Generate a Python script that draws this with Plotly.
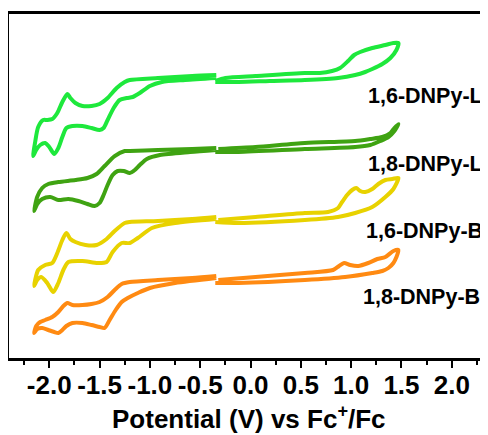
import plotly.graph_objects as go

# ---------------- data (potential in V vs Fc+/Fc, current in arbitrary units, offset stacked) -------------
# 1,6-DNPy-L
l16_neg_v = [-0.34, -0.58, -0.92, -1.20, -1.25, -1.33, -1.42, -1.50, -1.58, -1.67, -1.74, -1.79, -1.82, -1.87,
             -1.92, -1.97, -2.02, -2.06, -2.11, -2.14, -2.16,
             -2.13, -2.09, -2.04, -2.00, -1.95, -1.91, -1.87, -1.83, -1.77, -1.67, -1.58, -1.50, -1.46, -1.42,
             -1.36, -1.30, -1.23, -1.17, -1.10, -1.00, -0.88, -0.65, -0.34]
l16_neg_i = [28.3, 28.2, 28.0, 27.8, 27.6, 27.0, 26.0, 25.4, 25.2, 25.2, 25.5, 26.0, 26.4, 25.6,
             24.5, 23.9, 23.8, 23.8, 23.1, 21.6, 20.2,
             20.8, 21.3, 21.5, 21.1, 20.4, 21.0, 22.1, 23.0, 23.2, 23.2, 23.0, 22.8, 23.0, 23.8,
             25.0, 25.8, 26.0, 26.1, 26.5, 27.2, 27.6, 27.8, 28.0]
l16_pos_v = [-0.35, -0.12, 0.19, 0.54, 0.87, 1.04, 1.14, 1.21, 1.31, 1.39, 1.45, 1.47,
             1.42, 1.34, 1.21, 1.09, 1.03, 0.97, 0.89, 0.81, 0.69, 0.54, 0.05, -0.25, -0.35]
l16_pos_i = [27.6, 27.6, 27.7, 27.8, 28.0, 28.3, 28.6, 28.9, 29.4, 30.0, 30.8, 31.5,
             31.5, 31.3, 31.0, 30.6, 30.3, 29.7, 29.0, 28.7, 28.5, 28.5, 28.2, 28.0, 27.7]

# 1,8-DNPy-L
l18_neg_v = [-0.34, -0.58, -0.92, -1.20, -1.25, -1.35, -1.45, -1.53, -1.62, -1.74, -1.91, -2.01, -2.07, -2.12, -2.15,
             -2.12, -2.07, -1.99, -1.91, -1.81, -1.71, -1.62, -1.55, -1.50, -1.46, -1.42, -1.37, -1.32, -1.26,
             -1.20, -1.15, -1.10, -1.03, -0.90, -0.60, -0.34]
l18_neg_i = [21.0, 20.9, 20.8, 20.7, 20.7, 20.2, 19.2, 18.4, 18.0, 17.8, 17.6, 17.4, 17.0, 16.1, 14.7,
             15.4, 15.9, 16.1, 15.8, 15.9, 15.7, 15.4, 15.2, 15.5, 16.3, 17.3, 18.3, 18.7, 18.7,
             18.5, 18.8, 19.3, 19.9, 20.3, 20.6, 20.8]
l18_pos_v = [-0.35, -0.12, 0.54, 1.04, 1.19, 1.29, 1.37, 1.43, 1.47,
             1.43, 1.39, 1.31, 1.19, 1.04, 0.54, 0.05, -0.32]
l18_pos_i = [20.6, 20.6, 20.9, 21.1, 21.3, 21.7, 22.1, 22.7, 23.4,
             23.0, 22.5, 22.1, 21.9, 21.7, 21.5, 21.1, 20.9]

# 1,6-DNPy-B
b16_neg_v = [-0.34, -0.58, -0.92, -1.20, -1.25, -1.35, -1.43, -1.53, -1.64, -1.74, -1.79, -1.83, -1.87, -1.92,
             -1.97, -2.04, -2.11, -2.14, -2.15,
             -2.12, -2.08, -2.02, -1.96, -1.91, -1.86, -1.81, -1.67, -1.52, -1.43, -1.37, -1.28, -1.20, -1.12,
             -0.98, -0.75, -0.34]
b16_neg_i = [14.1, 13.9, 13.7, 13.6, 13.5, 12.7, 11.9, 11.3, 11.3, 11.6, 11.9, 12.5, 11.8, 10.5,
             9.5, 9.3, 8.8, 7.8, 7.2,
             7.8, 8.1, 7.5, 6.6, 7.5, 8.8, 9.6, 9.7, 9.5, 9.6, 10.6, 11.5, 11.5, 12.0,
             13.0, 13.5, 13.9]
b16_pos_v = [-0.35, -0.12, 0.54, 0.87, 1.04, 1.21, 1.34, 1.42, 1.47,
             1.41, 1.34, 1.27, 1.21, 1.14, 1.09, 1.05, 1.01, 0.96, 0.91, 0.87, 0.77, 0.54, 0.05, -0.32]
b16_pos_i = [13.6, 13.5, 13.8, 14.1, 14.5, 15.1, 16.1, 16.9, 18.0,
             17.9, 17.8, 17.4, 16.9, 16.6, 16.7, 17.0, 16.8, 16.3, 15.6, 15.0, 14.6, 14.5, 14.1, 13.8]

# 1,8-DNPy-B
b18_neg_v = [-0.34, -0.58, -0.92, -1.20, -1.28, -1.35, -1.42, -1.50, -1.58, -1.67, -1.77, -1.82, -1.86, -1.91,
             -1.97, -2.04, -2.09, -2.13, -2.15,
             -2.12, -2.07, -2.01, -1.95, -1.91, -1.87, -1.83, -1.77, -1.67, -1.58, -1.50, -1.45, -1.40, -1.34,
             -1.28, -1.22, -1.12, -1.00, -0.75, -0.34]
b18_neg_i = [8.2, 8.0, 7.8, 7.6, 7.4, 6.8, 6.1, 5.6, 5.4, 5.3, 5.3, 5.5, 5.2, 4.6,
             4.1, 3.8, 3.6, 3.2, 2.5,
             2.9, 3.0, 2.8, 2.6, 2.5, 2.8, 3.2, 3.5, 3.5, 3.3, 3.1, 3.0, 3.8, 4.8,
             5.6, 6.0, 6.5, 7.0, 7.5, 8.0]
b18_pos_v = [-0.35, -0.12, 0.54, 0.94, 1.21, 1.31, 1.37, 1.42, 1.45, 1.47,
             1.42, 1.34, 1.26, 1.17, 1.07, 0.99, 0.93, 0.88, 0.82, 0.54, 0.05, -0.32]
b18_pos_i = [7.5, 7.5, 7.8, 8.1, 8.5, 8.7, 9.0, 9.5, 10.1, 10.8,
             10.7, 10.1, 9.9, 9.5, 9.2, 9.3, 9.5, 9.2, 8.8, 8.5, 8.1, 7.8]

names = ["1,6-DNPy-L", "1,8-DNPy-L", "1,6-DNPy-B", "1,8-DNPy-B"]
colors = ["#1ee83c", "#3fa312", "#e8d200", "#ff8a12"]
label_v = [1.735, 1.735, 1.73, 1.70]
label_i = [26.2, 19.4, 12.7, 6.1]

tick_vals = [-2.0, -1.5, -1.0, -0.5, 0.0, 0.5, 1.0, 1.5, 2.0]
tick_text = ["-2.0", "-1.5", "-1.0", "-0.5", "0.0", "0.5", "1.0", "1.5", "2.0"]
x_title = "Potential (V) vs Fc<sup>+</sup>/Fc"

curves = [
    (l16_neg_v, l16_neg_i, l16_pos_v, l16_pos_i),
    (l18_neg_v, l18_neg_i, l18_pos_v, l18_pos_i),
    (b16_neg_v, b16_neg_i, b16_pos_v, b16_pos_i),
    (b18_neg_v, b18_neg_i, b18_pos_v, b18_pos_i),
]

FONT = "Liberation Sans, Arial, sans-serif"

fig = go.Figure()
for (nv, ni, pv, pi), name, col in zip(curves, names, colors):
    for xs, ys in ((nv, ni), (pv, pi)):
        fig.add_trace(go.Scatter(
            x=xs, y=ys, mode="lines", name=name, showlegend=False,
            line=dict(color=col, width=4, shape="spline", smoothing=0.7),
        ))

for name, lv, li in zip(names, label_v, label_i):
    fig.add_annotation(x=lv, y=li, xref="x", yref="y", text=name, showarrow=False,
                       xanchor="center", yanchor="middle",
                       font=dict(family=FONT, size=21.5, color="black", weight="bold"))

# x-axis title drawn as a paper annotation so it sits where the reference has it
fig.add_annotation(x=0.5, y=-0.172, xref="paper", yref="paper", text=x_title, showarrow=False,
                   xanchor="center", yanchor="middle",
                   font=dict(family=FONT, size=26, color="black", weight="bold"))

# page body has an 8px default margin, so the figure is offset by 8px in the window
fig.update_layout(
    width=488, height=435,
    margin=dict(l=1, r=8, t=6, b=85, autoexpand=False),
    plot_bgcolor="white", paper_bgcolor="white",
    xaxis=dict(
        range=[-2.4, 2.36], showgrid=False, zeroline=False, automargin=False,
        showline=True, linecolor="black", linewidth=2.5, mirror=True,
        tickmode="array", tickvals=tick_vals, ticktext=tick_text,
        ticks="outside", ticklen=7, tickwidth=2, tickcolor="black", ticklabelstandoff=-5,
        minor=dict(ticks="outside", ticklen=4, tickwidth=2, dtick=0.25, tick0=0, tickcolor="black", showgrid=False),
        tickfont=dict(family=FONT, size=26, color="black", weight="bold"),
    ),
    yaxis=dict(
        range=[0, 34.4], showgrid=False, zeroline=False, showticklabels=False, ticks="",
        automargin=False,
        showline=True, linecolor="black", linewidth=2.5, mirror=False,
    ),
)

fig.write_html("out.html")
